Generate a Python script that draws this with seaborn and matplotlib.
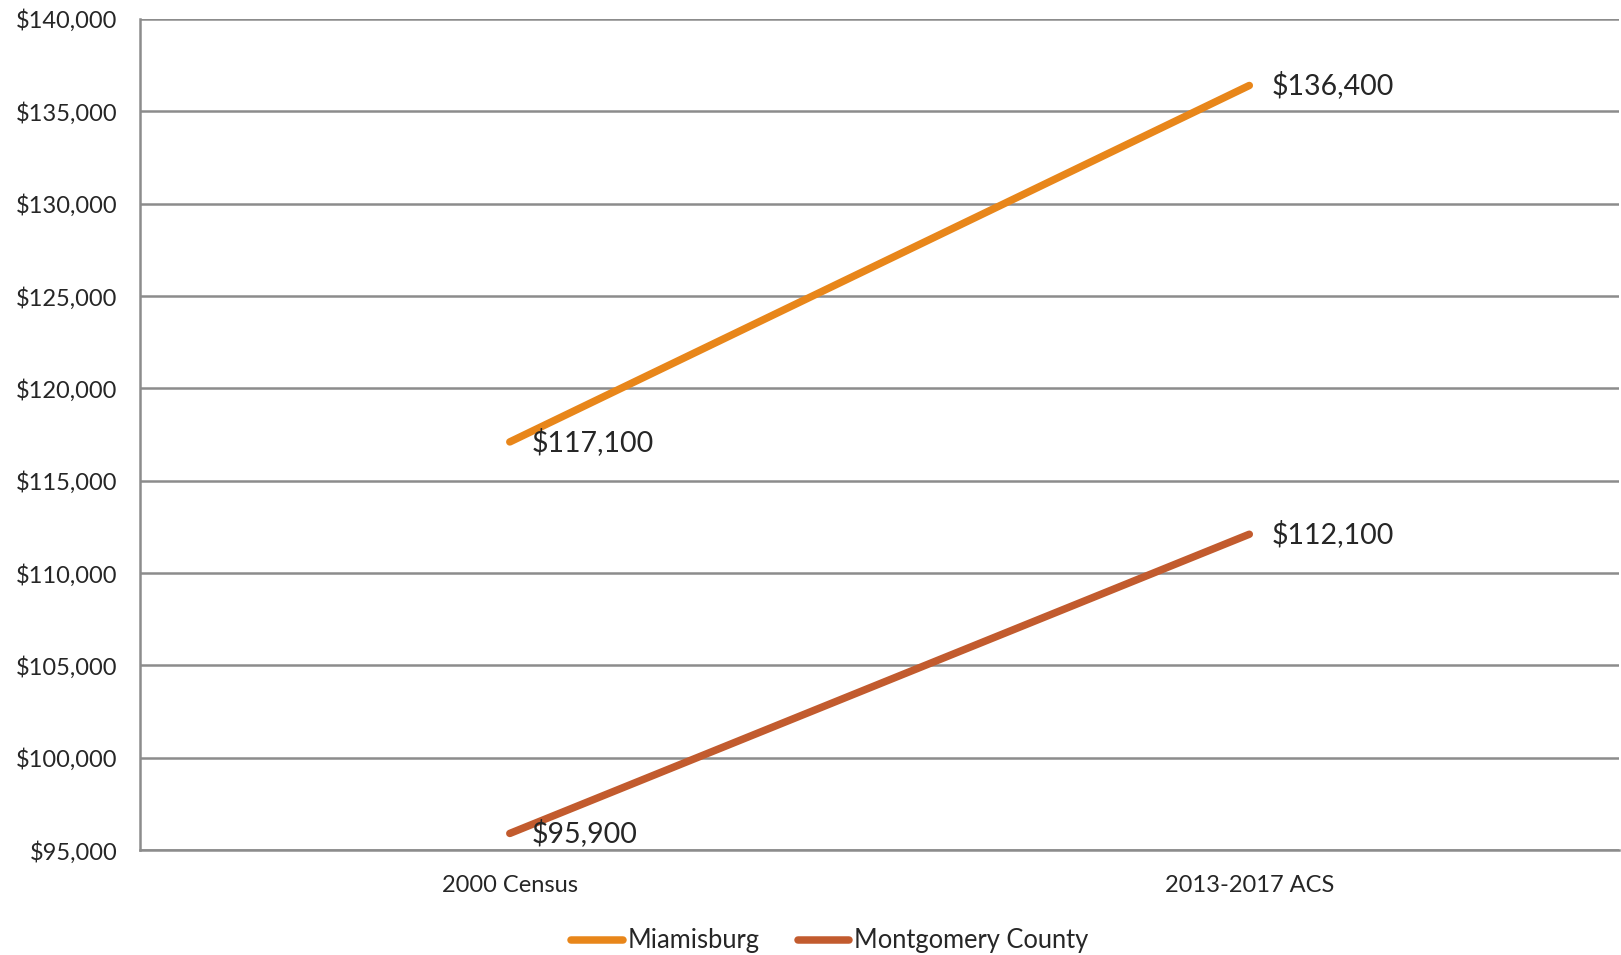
import matplotlib
matplotlib.use("Agg")
import matplotlib.pyplot as plt
import seaborn as sns
import pandas as pd
from matplotlib.ticker import FuncFormatter, FixedLocator

periods = ["2000 Census", "2013-2017 ACS"]
miamisburg = [117100, 136400]
montgomery = [95900, 112100]
series_names = ["Miamisburg", "Montgomery County"]
colors = ["#E8861A", "#C25B2E"]

df = pd.DataFrame({
    "period": periods * 2,
    "value": miamisburg + montgomery,
    "series": [series_names[0]] * 2 + [series_names[1]] * 2,
})

sns.set_style("white")
plt.rcParams["font.family"] = ["Lato", "DejaVu Sans"]

fig = plt.figure(figsize=(16.21, 9.55), dpi=100)
ax = fig.add_axes([0.0864, 0.1099, 0.9124, 0.8702])

lw = 5.4
sns.lineplot(data=df, x="period", y="value", hue="series", palette=colors,
             linewidth=lw, ax=ax, legend=False, solid_capstyle="round")

grid_c = "#8C8C8C"
ax.set_xlim(-0.5, 1.5)
ax.set_ylim(95000, 140000)
ax.set_yticks(range(95000, 140001, 5000))
ax.yaxis.set_major_formatter(FuncFormatter(lambda v, p: f"${v:,.0f}"))
ax.yaxis.grid(True, color=grid_c, linewidth=1.8)
ax.set_axisbelow(True)

# category labels centered, tick marks between categories
ax.set_xticks([0, 1])
ax.set_xticklabels(periods)
ax.xaxis.set_minor_locator(FixedLocator([-0.5, 0.5, 1.5]))
ax.tick_params(axis="x", which="major", length=0, pad=18, labelsize=17)
ax.tick_params(axis="x", which="minor", length=6, width=1.8, color=grid_c)
ax.tick_params(axis="y", length=6.5, width=1.8, color=grid_c, labelsize=17, pad=10)
ax.set_xlabel("")
ax.set_ylabel("")

for side in ["top", "right"]:
    ax.spines[side].set_visible(False)
for side in ["left", "bottom"]:
    ax.spines[side].set_color(grid_c)
    ax.spines[side].set_linewidth(1.8)

for vals in [miamisburg, montgomery]:
    for i, v in enumerate(vals):
        ax.annotate(f"${v:,.0f}", (i, v), xytext=(16, 0), textcoords="offset points",
                    va="center", ha="left", fontsize=20.5)

handles = [plt.Line2D([], [], color=c, linewidth=lw, solid_capstyle="round") for c in colors]
fig.legend(handles, series_names, loc="center", bbox_to_anchor=(0.512, 0.0147), ncol=2,
           frameon=False, fontsize=18.4, handlelength=2.0, handletextpad=0.2,
           columnspacing=1.5, borderpad=0)

fig.savefig("out.png", dpi=100)
plt.close(fig)
